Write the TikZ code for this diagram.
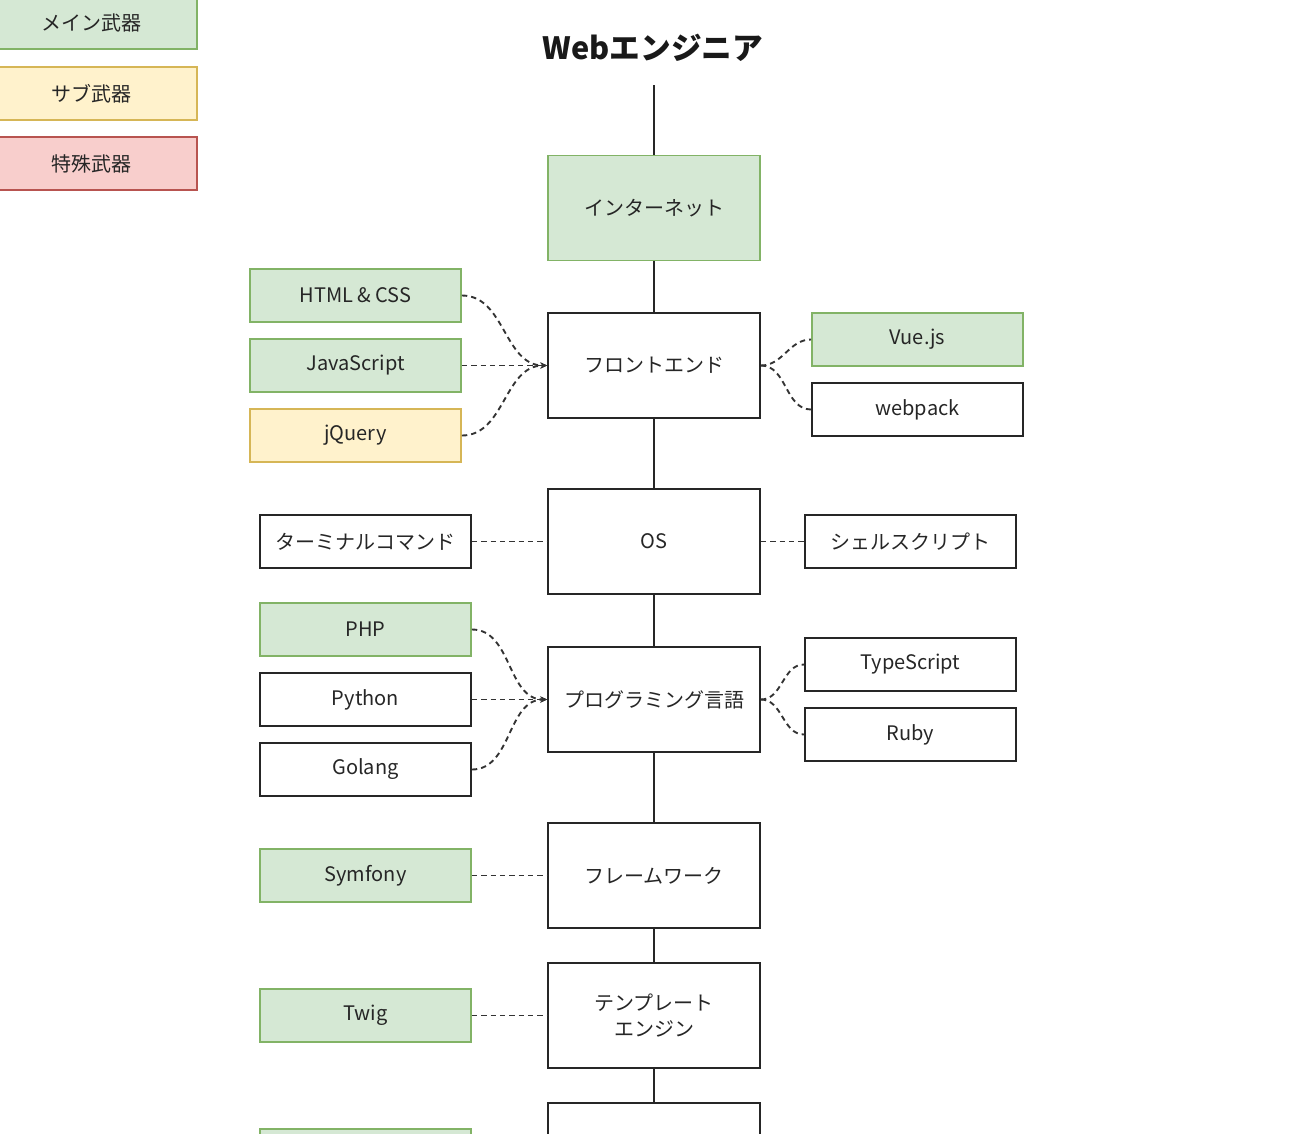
\documentclass[tikz,border=0pt]{standalone}
\usepackage{fontspec}
\setmainfont{Noto Sans CJK JP}
\usepackage{tikz}
\usetikzlibrary{arrows.meta}

\definecolor{mainfill}{HTML}{D5E8D4}
\definecolor{maindraw}{HTML}{82B366}
\definecolor{subfill}{HTML}{FFF2CC}
\definecolor{subdraw}{HTML}{D6B656}
\definecolor{spfill}{HTML}{F8CECC}
\definecolor{spdraw}{HTML}{B85450}

\tikzset{
  box/.style={rectangle, draw=black!85, line width=1.4pt, minimum width=158.25pt, minimum height=39.75pt, inner sep=1pt, font=\fontsize{15}{19.5}\selectfont, text=black!85, align=center},
  mainbox/.style={box, fill=mainfill, draw=maindraw},
  subbox/.style={box, fill=subfill, draw=subdraw},
  spbox/.style={box, fill=spfill, draw=spdraw},
  stagebox/.style={box, minimum width=159pt, minimum height=78.75pt},
  trunk/.style={line width=1.3pt, black!85},
  link/.style={line width=1.4pt, black!80, dash pattern=on 4pt off 3pt},
  linkin/.style={link, -{Stealth[length=5pt,width=4.5pt]}},
}

\begin{document}
\begin{tikzpicture}[x=0.75pt,y=0.75pt,yscale=-1,xscale=1]
\useasboundingbox (0,0) rectangle (1300,1133);
\clip (0,0) rectangle (1300,1133);

% legend
\node [mainbox] (lgmain) at (91.5,22.5) {メイン武器};
\node [subbox] (lgsub) at (91.5,93.5) {サブ武器};
\node [spbox] (lgsp) at (91.5,163.5) {特殊武器};

% title
\node [font=\fontsize{23}{27}\selectfont\bfseries, text=black!90] (title) at (653,48) {Webエンジニア};
\coordinate (top) at (654,85);

% main stages
\node [stagebox, fill=mainfill, draw=maindraw] (net) at (654,208) {インターネット};
\node [stagebox] (front) at (654,365.5) {フロントエンド};
\node [stagebox] (os) at (654,541.5) {OS};
\node [stagebox] (lang) at (654,699.5) {プログラミング言語};
\node [stagebox] (fw) at (654,875.5) {フレームワーク};
\node [stagebox] (tpl) at (654,1015.5) {テンプレート\\エンジン};
\node [stagebox] (next) at (654,1155.5) {};

\draw [trunk] (top) -- (net.north);
\draw [trunk] (net) -- (front);
\draw [trunk] (front) -- (os);
\draw [trunk] (os) -- (lang);
\draw [trunk] (lang) -- (fw);
\draw [trunk] (fw) -- (tpl);
\draw [trunk] (tpl) -- (next);

% front end
\node [mainbox] (html) at (355.5,295.5) {HTML \& CSS};
\node [mainbox] (js) at (355.5,365.5) {JavaScript};
\node [subbox] (jq) at (355.5,435.5) {jQuery};
\node [mainbox] (vue) at (917.5,339.5) {Vue.js};
\node [box] (wp) at (917.5,409.5) {webpack};
\draw [linkin] (html.east) to [out=0,in=180] (front.west);
\draw [linkin] (js.east) -- (front.west);
\draw [linkin] (jq.east) to [out=0,in=180] (front.west);
\draw [link] (front.east) to [out=0,in=180] (vue.west);
\draw [link] (front.east) to [out=0,in=180] (wp.west);

% os
\node [box] (term) at (365.5,541.5) {ターミナルコマンド};
\node [box] (shell) at (910.5,541.5) {シェルスクリプト};
\draw [link] (term) -- (os);
\draw [link] (os) -- (shell);

% languages
\node [mainbox] (php) at (365.5,629.5) {PHP};
\node [box] (py) at (365.5,699.5) {Python};
\node [box] (go) at (365.5,769.5) {Golang};
\node [box] (ts) at (910.5,664.5) {TypeScript};
\node [box] (rb) at (910.5,734.5) {Ruby};
\draw [linkin] (php.east) to [out=0,in=180] (lang.west);
\draw [linkin] (py.east) -- (lang.west);
\draw [linkin] (go.east) to [out=0,in=180] (lang.west);
\draw [link] (lang.east) to [out=0,in=180] (ts.west);
\draw [link] (lang.east) to [out=0,in=180] (rb.west);

% framework, template
\node [mainbox] (sf) at (365.5,875.5) {Symfony};
\node [mainbox] (twig) at (365.5,1015.5) {Twig};
\node [mainbox] (nextl) at (365.5,1155.5) {};
\draw [link] (sf) -- (fw);
\draw [link] (twig) -- (tpl);
\end{tikzpicture}
\end{document}
